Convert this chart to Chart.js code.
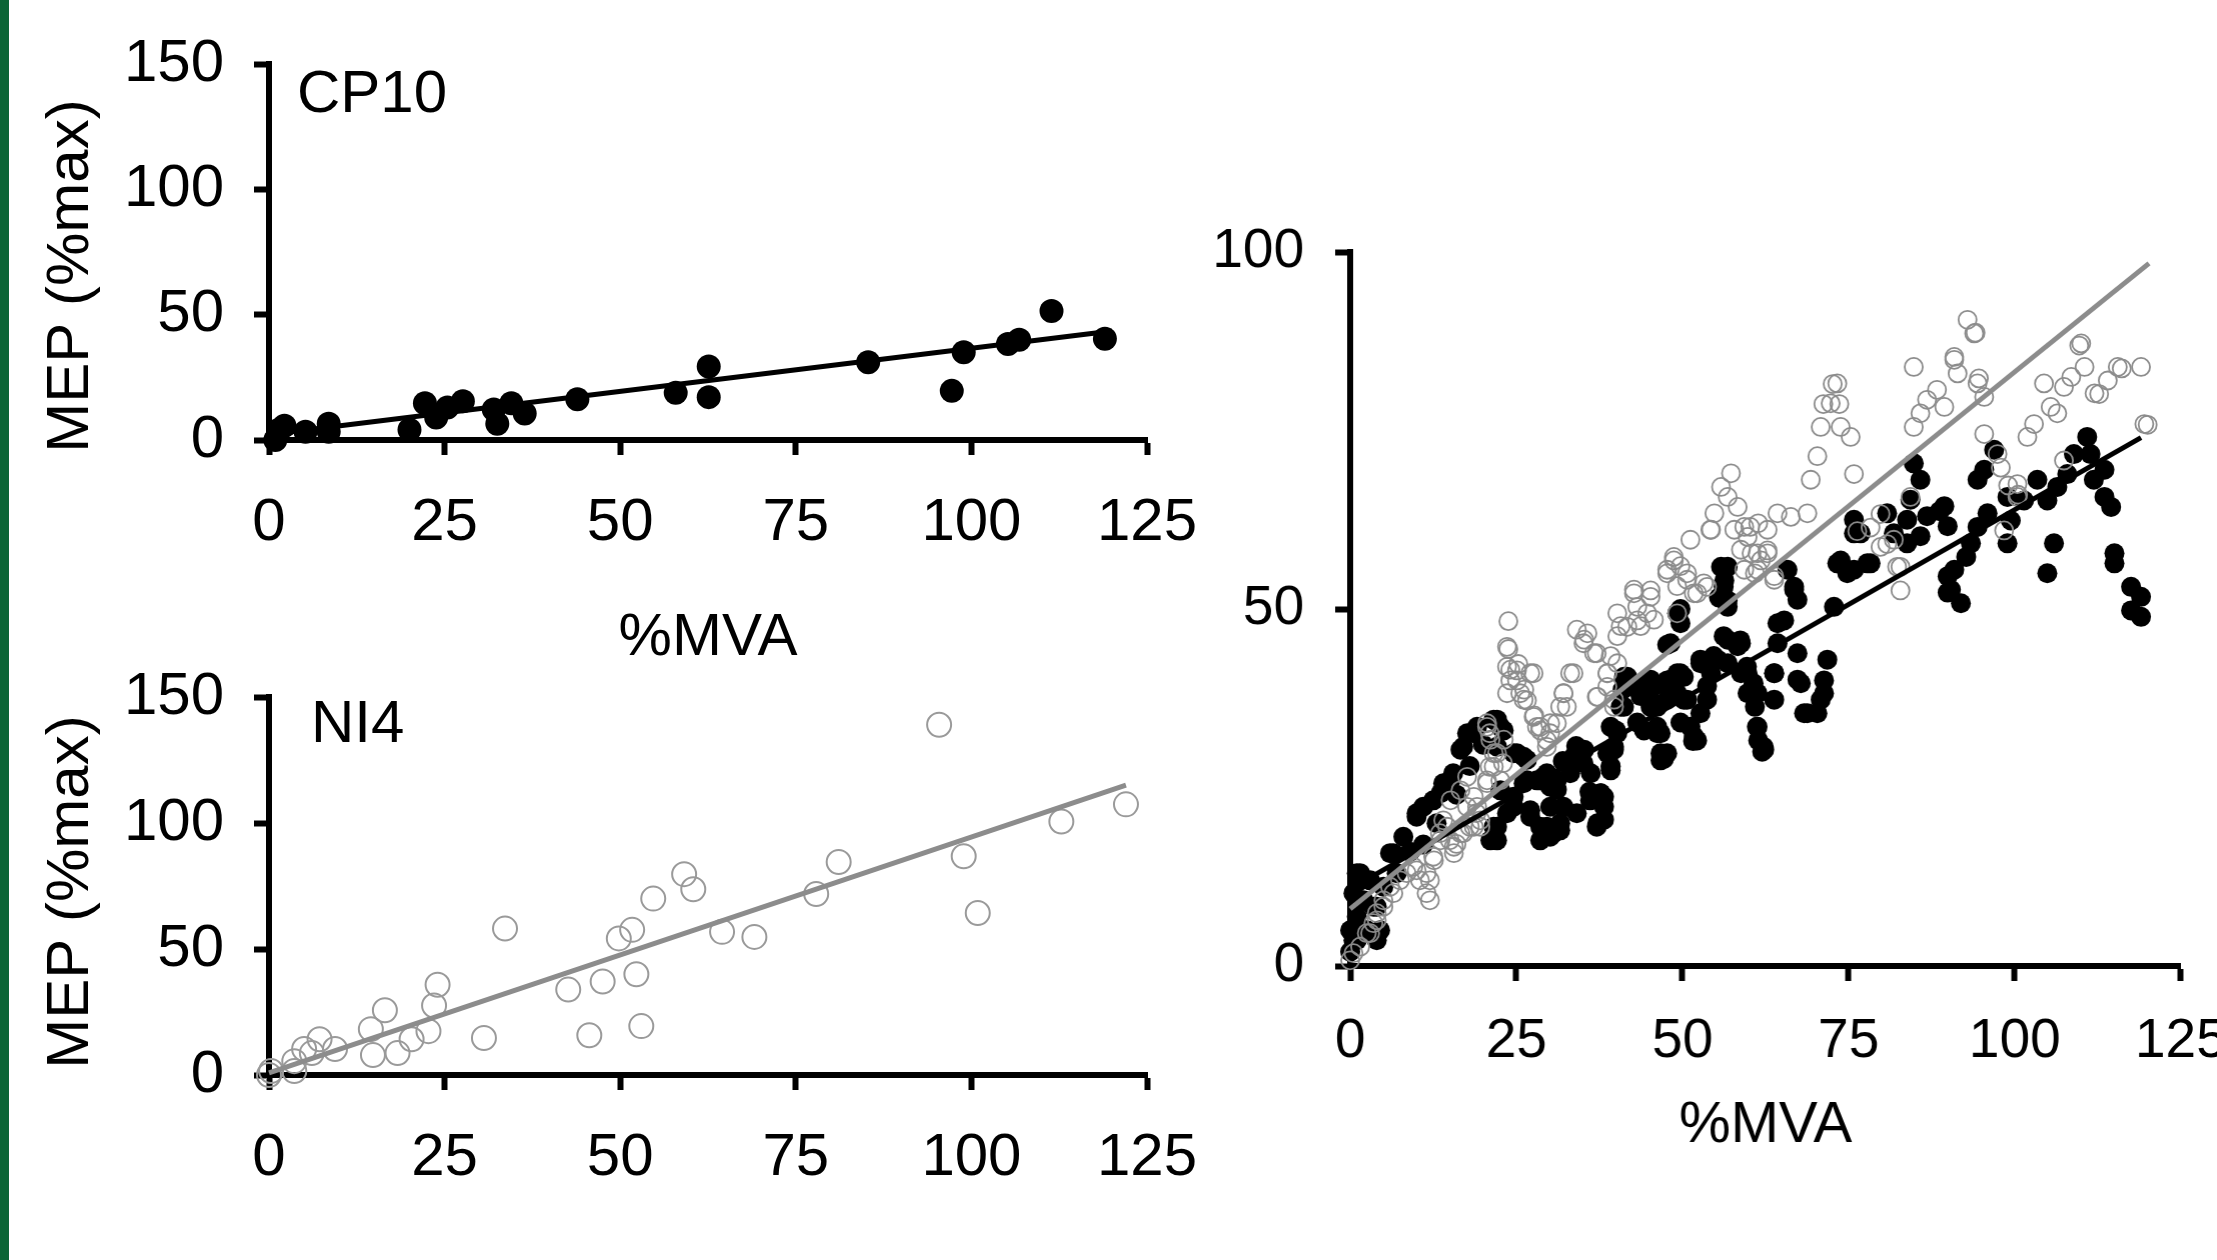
<!DOCTYPE html>
<html>
<head>
<meta charset="utf-8">
<script src="https://cdn.jsdelivr.net/npm/chart.js@4.4.1/dist/chart.umd.min.js"></script>
<style>
html, body { margin: 0; padding: 0; background: #fff; overflow: hidden; width: 2217px; height: 1260px; }
.edge { position: absolute; left: 0; top: 0; width: 9px; height: 1260px; background: #0b6535; }
.box { position: absolute; }
</style>
</head>
<body>
<div class="edge"></div>
<div class="box" style="left:0px;top:4px;width:1217px;height:686px"><canvas id="cp10-chart"></canvas></div>
<div class="box" style="left:0px;top:637px;width:1217px;height:588px"><canvas id="ni4-chart"></canvas></div>
<div class="box" style="left:1150px;top:192px;width:1100px;height:1004px"><canvas id="group-chart"></canvas></div>
<script>
// tick values
const xTicksSmall = [0, 25, 50, 75, 100, 125];
const yTicksSmall = [0, 50, 100, 150];
const yTicksBig = [0, 50, 100];

// CP10 (filled black)
const cp10Points = [
    [0.9, 0], [1.4, 4.1], [2.2, 5.7], [5.2, 3.3], [8.5, 6.5], [8.5, 3.3],
    [20, 4.1], [22.2, 14.7], [23.8, 9], [25.4, 13], [27.6, 15.5],
    [32, 12.2], [32.5, 6.5], [34.5, 14.7], [36.4, 10.6], [43.9, 16.3],
    [57.9, 18.8], [62.6, 29.3], [62.6, 17.1], [85.3, 31], [97.2, 19.6],
    [98.9, 35], [105.2, 38.3], [106.8, 40], [111.4, 51.5], [119, 40.4]
];
const cp10FitX = [0, 120];
const cp10FitY = [2.2, 43.5];

// NI4 (open grey)
const ni4Points = [
    [0.3, 1.6], [0, 0], [3.6, 5.5], [3.6, 1.6], [5, 10.3], [6.1, 8.7],
    [7.2, 14.2], [9.4, 10.3], [14.5, 18.2], [14.8, 7.9], [16.5, 25.7],
    [18.3, 8.7], [20.3, 14.2], [22.7, 17.4], [23.5, 27.6], [24, 35.8],
    [30.6, 14.7], [33.6, 58.1], [42.6, 33.9], [45.6, 15.8], [47.5, 37.1],
    [49.8, 54.2], [51.7, 57.6], [52.3, 40], [53, 19.4], [54.7, 70],
    [59.1, 79.7], [60.4, 73.7], [64.5, 56.8], [69.1, 54.8], [77.9, 71.8],
    [81.1, 84.5], [95.4, 139], [98.9, 86.8], [100.9, 64.3], [112.8, 100.6],
    [122, 107.4]
];
const ni4FitX = [0, 122];
const ni4FitY = [0.8, 115];

// pooled panel, filled black
const blackPoints = [
    [0, 2], [0, 5], [0.5, 3.6], [0.5, 10.2], [1, 13], [1, 6.9], [1.5, 12], [1.5, 13],
    [1, 3.6], [2, 9.2], [2.5, 5], [3, 12], [3.5, 8.3], [4, 3.6], [4, 8.3], [4.5, 5],
    [5, 11.1], [6, 15.8], [6.5, 15.8], [8, 18.1], [7, 13], [9, 16], [10, 20.9], [10, 21.4],
    [11, 17], [11, 22.3], [12.5, 23.2], [13, 20], [13.6, 24.2], [14, 25.6], [15.1, 26],
    [15.5, 27], [16, 24], [16.6, 30.3], [17, 30.7], [17.6, 32.6], [18, 28], [18.6, 32.6],
    [19.1, 33.5], [20, 31], [21.6, 34.5], [22.1, 34.5], [22.6, 33.5], [23.1, 33],
    [22.1, 30.7], [24.6, 29.8], [25.1, 29.8], [26.1, 29.3], [26.6, 28.9], [22.6, 24.6],
    [21.1, 17.6], [21.6, 19.5], [22.1, 17.6], [22.1, 19.5], [23.6, 21.4], [24.6, 22.3],
    [24.6, 23.7], [26.1, 25.6], [26.6, 26], [28.1, 26], [28.6, 26], [29.1, 26.5],
    [30.1, 25.1], [27.1, 21.8], [29.6, 19.5], [28.6, 17.6], [28.6, 19.5], [27.1, 20.9],
    [30.1, 18.1], [30.6, 18.6], [31.6, 19], [32.1, 22.3], [31.1, 26], [33.1, 27],
    [34.1, 29.8], [35.1, 28.4], [36.1, 23.2], [37.1, 19.5], [38.2, 22.3], [37.7, 24.2],
    [39.2, 27.9], [39.7, 30.3], [40.2, 32.6], [29.6, 27], [31.1, 24.7], [33.6, 29.3],
    [35.2, 30.3], [36.2, 27], [37.7, 24.2], [37.2, 20], [31.6, 20], [30.1, 22.3],
    [34.1, 21.4], [32, 28.7], [34, 30.8], [36, 24.4], [38.2, 23.7], [38.2, 20.5],
    [38.7, 29.8], [39.2, 28], [39.2, 33.5], [40.7, 36.3], [41.7, 40.5], [41.2, 40.5],
    [41.2, 36.3], [43.7, 39.1], [43.7, 37.8], [43.2, 34.1], [44.2, 33], [45.2, 37.3],
    [45.7, 39.6], [46.2, 36.3], [46.2, 32.6], [46.7, 32.6], [46.7, 29.8], [47.2, 29.3],
    [47.2, 29], [48.2, 39.1], [49.2, 41], [47.7, 40], [47.7, 37.3], [49.2, 38.2],
    [49.7, 34.1], [50.2, 40.5], [50.7, 37.3], [51.7, 32.2], [52.7, 35.4], [53.7, 37.3],
    [52.7, 42.4], [54.7, 43.4], [56.2, 46.2], [56.8, 55.9], [56.2, 53.1], [56.8, 50.3],
    [56.8, 42.4], [58.8, 45.2], [59.8, 41], [61.3, 38.2], [61.3, 33.5], [62.3, 30.3],
    [63.8, 37.3], [63.8, 41], [64.3, 45.2], [65.3, 48.4], [65.8, 55.5], [66.8, 53.1],
    [67.3, 51.3], [67.3, 43.8], [67.8, 39.6], [68.8, 35.4], [70.8, 37.3], [71.3, 40],
    [71.8, 42.9], [72.8, 50.3], [73.8, 56.8], [75.8, 55.5], [78.3, 56.4], [75.8, 60.6],
    [83.8, 59.2], [85.8, 60.2],
    [39.2, 27.4], [39.7, 30.7], [40, 33], [41, 38.7], [42.2, 39.2], [43.7, 38.2],
    [45.2, 40.1], [45.2, 36.3], [46, 39.4], [46.2, 33.5], [46.7, 28.8], [47.7, 29.8],
    [48.2, 40.1], [49.7, 41], [50.2, 37.3], [51.2, 33.5], [51.6, 31.5], [52.2, 31.6],
    [47.7, 45], [48.2, 45.2], [49.2, 49.4], [49.7, 48], [49.7, 50], [52.7, 42.9],
    [53.7, 39.2], [54.3, 41], [54.5, 43], [55.3, 42.9], [55.5, 51.6], [55.8, 55.9],
    [56.3, 54], [56.8, 51.2], [56.8, 45.7], [58.3, 44.8], [58.8, 41], [59.8, 38.2],
    [60.9, 36.3], [61.4, 31.6], [62, 30], [58.7, 45.6], [59.7, 41.9], [60.7, 39.6],
    [61.2, 33.5], [62.2, 30.7], [63.8, 41], [64.3, 48], [66.8, 52.7], [67.3, 40.1],
    [68.3, 35.4], [70.3, 35.4], [71.3, 38.2], [73.3, 56.4], [74.8, 55], [75.8, 62.5],
    [76.8, 60.6], [77.8, 56.4], [80.8, 63.4], [81.8, 60.6], [83.8, 62.5], [84.8, 70.4],
    [85.8, 68.1], [84.3, 65.3], [86.8, 63], [88.7, 63.7], [89.4, 64.4], [89.9, 61.6],
    [89.9, 54.6], [90.4, 52.7], [90.9, 55.5], [89.9, 52.3], [91.9, 50.8], [92.7, 57.3],
    [93.4, 59.2], [94.4, 61.5], [95.9, 63.4], [94.4, 68.1], [95.4, 69.5], [96.9, 72.3],
    [98.9, 65.7], [99.4, 62.4], [98.9, 59.2], [101.4, 65.2], [103.4, 68.1], [104.9, 65.2],
    [105.9, 59.2], [104.9, 55], [106.4, 67.1], [107.9, 68.9], [108.9, 71.7], [110.9, 74.1],
    [111.4, 71.7], [111.9, 68.1], [113.5, 69.5], [113.5, 65.7], [114.5, 64.3], [115, 57.8],
    [115, 56.4], [117.5, 53.1], [119, 51.7], [117.5, 49.8], [119, 48.9]
];
const blackFitX = [0, 119];
const blackFitY = [10.8, 74];

// pooled panel, open grey
const grayPoints = [
    [0, 0.8], [0.5, 1.8], [1.5, 2.7], [2.5, 4.6], [3, 4.6], [3.5, 6], [4, 6.4], [4, 7.4],
    [5, 8.3], [5, 9.2], [6, 11.1], [6.5, 10.2], [7.5, 12], [8.5, 13], [9.5, 13.9],
    [10, 13.4], [10.5, 12], [11.5, 10.2], [12, 9.2], [12, 12], [11.5, 13], [12.5, 15.3],
    [12.6, 14.8], [13.5, 18.6], [13.6, 17.6], [14, 20.4], [14.6, 19.5], [15, 17.6],
    [15.6, 15.8], [15.6, 16.7], [16, 17.1], [16.6, 18.6], [15.1, 23.2], [16.6, 24.6],
    [17.6, 26.5], [17, 18.6], [17.6, 22.3], [18, 19.5], [18.6, 19.5], [18.6, 23.7],
    [19, 21.4], [19.1, 22.3], [19.6, 19.5], [19.6, 20.4], [20.6, 25.6], [20.6, 26],
    [21, 27.9], [21.6, 27.9], [21.6, 29.8], [22.1, 29.8], [21.1, 31.7], [21, 32.6],
    [20.6, 33.5], [20.6, 34], [23.1, 31.7], [22.6, 26], [23, 28.4], [23.6, 44.7],
    [23.8, 48.3], [23.8, 44.4], [23.6, 41.9], [24.1, 41.5], [24.1, 40], [23.6, 38.2],
    [25.1, 41.4], [25.1, 40], [25.3, 42.3], [25.6, 38.2], [26.2, 38.7], [26.6, 37.2],
    [26.1, 37.3], [27.1, 41], [27.6, 41], [27.7, 35.1], [27.6, 34.9], [28.1, 33.5],
    [28.6, 33.5], [29.6, 31.6], [30.1, 32.6], [31.1, 34], [32.6, 36.3], [33.1, 41],
    [32.1, 38.2], [35.1, 45.2], [37.1, 43.8], [38.7, 41], [37.1, 37.7], [39.7, 37.3],
    [28.6, 33], [30.1, 34], [29.6, 30.7], [31.6, 36.3], [32.1, 38.2], [33.6, 41],
    [34.1, 47.1], [35.2, 45.7], [35.7, 46.6], [36.7, 43.8], [37.2, 37.7], [38.7, 41],
    [39.2, 43.4], [40.2, 46.2], [40.2, 49.4], [40.7, 47.6], [39.7, 36.3], [38.7, 39.1],
    [40.2, 42.4], [41.7, 47.5], [43.2, 48.4], [44.7, 49.4], [42.7, 52.2], [45.2, 52.6],
    [47.7, 55], [48.7, 56.8], [50.7, 55], [51.7, 52.2], [53.7, 53.1], [51.2, 59.7],
    [54.2, 61.1], [57.8, 61.1], [58.8, 58.3], [61.3, 55.5], [61.3, 57.8], [62.8, 57.8],
    [63.8, 54.6], [59.3, 55.5], [62.8, 61.1], [49.2, 49.4], [79.8, 58.7], [81.8, 59.7],
    [82.8, 55.9], [82.8, 52.6],
    [42.7, 52.7], [43.2, 50.3], [43.7, 47.6], [45.2, 51.7], [45.7, 48.5], [47.7, 55.5],
    [48.7, 57.3], [49.2, 53.2], [49.7, 56], [50.7, 54.1], [52.2, 52.2], [53.2, 53.6],
    [54.3, 61.1], [54.8, 63.4], [55.8, 67.1], [57.3, 69], [56.8, 65.7], [58.3, 64.3],
    [59.3, 61.5], [59.8, 60.1], [60.4, 57.8], [60.9, 55], [61.4, 62], [60.2, 61.5],
    [61.8, 56.8], [62.8, 58.2], [63.8, 54.1], [64.3, 63.4], [66.3, 62.9], [68.8, 63.4],
    [69.3, 68.1], [70.3, 71.4], [70.8, 75.5], [71.2, 78.7], [72.3, 78.8], [72.6, 81.5],
    [73.3, 81.6], [73.6, 78.7], [73.8, 75.5], [75.3, 74.1], [75.8, 68.9], [76.3, 60.9],
    [78.3, 61.4], [79.8, 63.3], [80.8, 59.1], [82.3, 55.9], [84.3, 65.7], [84.8, 75.5],
    [84.8, 83.9], [85.8, 77.4], [86.8, 79.3], [88.3, 80.7], [89.4, 78.3], [90.9, 84.9],
    [92.9, 90.5], [93.9, 88.6], [94.1, 88.7], [90.9, 85.3], [91.4, 83], [94.4, 81.6],
    [94.6, 82.3], [95.4, 79.7], [95.4, 74.5], [97.4, 71.7], [97.9, 69.8], [99, 67.3],
    [100.4, 67.5], [100.5, 66], [100.4, 65.7], [98.4, 61], [101.9, 74.1], [102.9, 75.9],
    [104.4, 81.6], [105.4, 78.3], [106.4, 77.4], [107.4, 81.1], [108.5, 82.5],
    [109.7, 86.9], [110, 87.2], [110.5, 83.9], [112, 80.2], [112.7, 80.1], [114, 82],
    [115.5, 83.9], [116.1, 83.7], [119, 83.9], [119.5, 75.9], [120, 75.8], [107.4, 70.8]
];
const grayFitX = [0, 120.2];
const grayFitY = [8, 98.4];

const FONT = 'Arial, "Liberation Sans", sans-serif';
const GRAY = '#8c8c8c';

function toXY(pairs) {
    return pairs.map(p => ({ x: p[0], y: p[1] }));
}
function fitLine(xs, ys) {
    return xs.map((x, i) => ({ x: x, y: ys[i] }));
}

// panel name and rotated y title, placed relative to the plot area
const panelText = {
    id: 'panelText',
    afterDraw(chart, args, opts) {
        const { ctx, chartArea } = chart;
        ctx.save();
        ctx.fillStyle = '#000';
        ctx.textBaseline = 'middle';
        if (opts.label) {
            ctx.font = '60px ' + FONT;
            ctx.textAlign = 'left';
            ctx.fillText(opts.label, chartArea.left + opts.labelDx, chartArea.top + opts.labelDy);
        }
        if (opts.yTitle) {
            ctx.font = '60px ' + FONT;
            ctx.textAlign = 'center';
            ctx.translate(chartArea.left - 198, chartArea.bottom - opts.yTitleUp);
            ctx.rotate(-Math.PI / 2);
            ctx.fillText(opts.yTitle, 0, 0);
        }
        ctx.restore();
    }
};

function makeScales(c) {
    return {
        x: {
            type: 'linear',
            min: c.xTicks[0],
            max: c.xTicks[c.xTicks.length - 1],
            afterBuildTicks: s => { s.ticks = c.xTicks.map(v => ({ value: v })); },
            afterFit: s => { s.height = c.xHeight; },
            ticks: { font: { family: FONT, size: c.tickSize }, color: '#000', padding: c.xPad, maxRotation: 0, autoSkip: false },
            grid: { drawOnChartArea: false, drawTicks: true, tickLength: 15, tickWidth: 6, tickColor: '#000' },
            border: { color: '#000', width: 6 },
            title: c.xTitle ? {
                display: true, text: c.xTitle, color: '#000',
                font: { family: FONT, size: c.titleSize }, padding: { top: 0, bottom: c.xTitlePad }
            } : { display: false }
        },
        y: {
            type: 'linear',
            min: c.yTicks[0],
            max: c.yTicks[c.yTicks.length - 1],
            afterBuildTicks: s => { s.ticks = c.yTicks.map(v => ({ value: v })); },
            afterFit: s => { s.width = c.yWidth; },
            ticks: { font: { family: FONT, size: c.tickSize }, color: '#000', padding: c.yPad },
            grid: { drawOnChartArea: false, drawTicks: true, tickLength: 15, tickWidth: 6, tickColor: '#000' },
            border: { color: '#000', width: 6 }
        }
    };
}

function baseOptions(c, text) {
    return {
        responsive: true,
        maintainAspectRatio: false,
        animation: false,
        devicePixelRatio: 1,
        layout: { padding: { top: 60, right: 70, bottom: 0, left: 0 } },
        plugins: {
            legend: { display: false },
            tooltip: { enabled: false },
            panelText: text
        },
        scales: makeScales(c)
    };
}

function lineSet(data, color) {
    return { data: data, showLine: true, borderColor: color, borderWidth: 5, pointRadius: 0, fill: false, order: 0, clip: false };
}

// move/resize the holder so that the plot area lands on the wanted page rectangle
function place(chart, area) {
    const box = chart.canvas.parentNode;
    for (let k = 0; k < 3; k++) {
        const a = chart.chartArea;
        const w = parseFloat(box.style.width) + (area.right - area.left) - (a.right - a.left);
        const h = parseFloat(box.style.height) + (area.bottom - area.top) - (a.bottom - a.top);
        box.style.left = (area.left - a.left) + 'px';
        box.style.top = (area.top - a.top) + 'px';
        box.style.width = w + 'px';
        box.style.height = h + 'px';
        chart.resize();
    }
}

const cp10Chart = new Chart(document.getElementById('cp10-chart'), {
    type: 'scatter',
    data: {
        datasets: [
            lineSet(fitLine(cp10FitX, cp10FitY), '#000'),
            { data: toXY(cp10Points), pointRadius: 12, backgroundColor: '#000', borderWidth: 0, order: 1, clip: false }
        ]
    },
    options: baseOptions({
        xTicks: xTicksSmall, yTicks: yTicksSmall, tickSize: 60, titleSize: 60,
        xHeight: 250, yWidth: 269, xPad: 32, yPad: 30,
        xTitle: '%MVA', xTitlePad: 16
    }, { label: 'CP10', labelDx: 28, labelDy: 31, yTitle: 'MEP (%max)', yTitleUp: 164 }),
    plugins: [panelText]
});
place(cp10Chart, { left: 269, top: 64, right: 1147, bottom: 440 });

const ni4Chart = new Chart(document.getElementById('ni4-chart'), {
    type: 'scatter',
    data: {
        datasets: [
            lineSet(fitLine(ni4FitX, ni4FitY), GRAY),
            { data: toXY(ni4Points), pointRadius: 12, backgroundColor: 'rgba(0,0,0,0)', borderColor: '#9a9a9a', borderWidth: 2, order: 1, clip: false }
        ]
    },
    options: baseOptions({
        xTicks: xTicksSmall, yTicks: yTicksSmall, tickSize: 60, titleSize: 60,
        xHeight: 150, yWidth: 269, xPad: 32, yPad: 30,
        xTitle: null
    }, { label: 'NI4', labelDx: 42, labelDy: 28, yTitle: 'MEP (%max)', yTitleUp: 183 }),
    plugins: [panelText]
});
place(ni4Chart, { left: 269, top: 697, right: 1147, bottom: 1075 });

const groupChart = new Chart(document.getElementById('group-chart'), {
    type: 'scatter',
    data: {
        datasets: [
            lineSet(fitLine(grayFitX, grayFitY), GRAY),
            lineSet(fitLine(blackFitX, blackFitY), '#000'),
            { data: toXY(grayPoints), pointRadius: 9, backgroundColor: 'rgba(0,0,0,0)', borderColor: GRAY, borderWidth: 1.8, order: 1, clip: false },
            { data: toXY(blackPoints), pointRadius: 10, backgroundColor: '#000', borderWidth: 0, order: 2, clip: false }
        ]
    },
    options: baseOptions({
        xTicks: xTicksSmall, yTicks: yTicksBig, tickSize: 55, titleSize: 58,
        xHeight: 230, yWidth: 200, xPad: 28, yPad: 31,
        xTitle: '%MVA', xTitlePad: 35
    }, {}),
    plugins: [panelText]
});
place(groupChart, { left: 1350, top: 252, right: 2180, bottom: 966 });
</script>
</body>
</html>
